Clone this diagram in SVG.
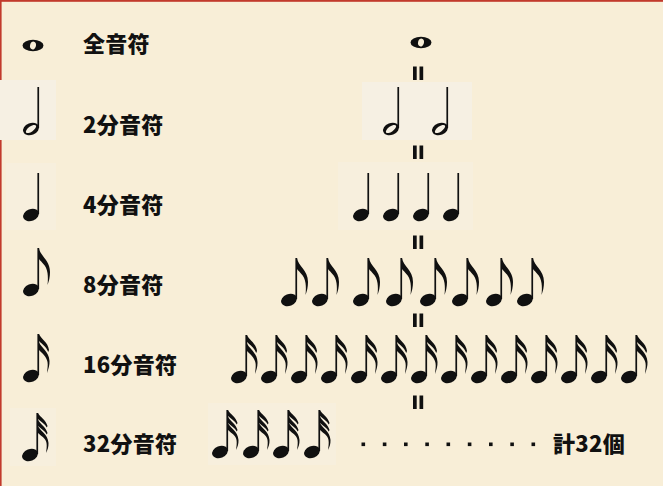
<svg xmlns="http://www.w3.org/2000/svg" xmlns:xlink="http://www.w3.org/1999/xlink" width="663" height="486" viewBox="0 0 663 486">
<style>
.bg{fill:#F8EED7}
.patch{fill:#F6F0E3}
.patch2{fill:#F7EFDD}
.border{fill:#C23A2C}
.ink{fill:#101010}
.txt{font-family:"Noto Sans CJK JP","Noto Sans CJK SC",sans-serif;font-weight:900;font-size:22px;fill:#111;letter-spacing:0.3px}
</style>
<defs>
<rect id="stem" x="6.4" y="-42" width="1.7" height="41"/>
<ellipse id="head" rx="8.2" ry="5.8" transform="rotate(-22)"/>
<path id="hhead" fill-rule="evenodd" d="M -7.6,3.07 A 8.2 5.8 -22 1 0 7.6,-3.07 A 8.2 5.8 -22 1 0 -7.6,3.07 Z M -4.92,3.44 A 6 2.6 -35 1 0 4.92,-3.44 A 6 2.6 -35 1 0 -4.92,3.44 Z"/>
<path id="whole" fill-rule="evenodd" d="M -10.5,0 A 10.5 5.8 0 1 0 10.5,0 A 10.5 5.8 0 1 0 -10.5,0 Z M -1.0,3.73 A 3.9 2.6 -75 1 0 1.0,-3.73 A 3.9 2.6 -75 1 0 -1.0,3.73 Z"/>
<path id="flag8" d="M 8,-42 C 9,-34 19,-30 19,-18 C 19,-13 18,-9 16.5,-5 C 17,-10 17,-13 16.5,-17 C 15.5,-25 10,-28 8,-31 Z"/>
<path id="f16a" d="M 8,-42 C 10,-37 17,-34 18,-26 L 17.2,-24 C 15.5,-29 11,-32 8,-35 Z"/>
<path id="f16b" d="M 8,-34 C 10,-28 18,-25 18.5,-15 C 18.7,-11 17.5,-7 16,-3 C 16.5,-8 17,-11 16.5,-14 C 15.8,-19 11,-23 8,-26 Z"/>
<path id="f32a" d="M 8,-42 C 10,-38 16,-35 17.5,-29 L 16.8,-27.5 C 15,-31 11,-33.5 8,-36 Z"/>
<path id="f32b" d="M 8,-35.5 C 10,-31 16,-28 17.5,-22 L 16.8,-20.5 C 15,-24 11,-26.5 8,-29 Z"/>
<path id="f32c" d="M 8,-29 C 10,-24 18,-21 18.5,-12 C 18.7,-8 17.5,-5 16,-2 C 16.5,-6 17,-9 16.5,-12 C 15.8,-17 11,-19 8,-22 Z"/>
<g id="n2"><use href="#hhead"/><use href="#stem"/></g>
<g id="n4"><use href="#head"/><use href="#stem"/></g>
<g id="n8"><use href="#n4"/><use href="#flag8"/></g>
<g id="n16"><use href="#n4"/><use href="#f16a"/><use href="#f16b"/></g>
<g id="n32"><use href="#n4"/><use href="#f32a"/><use href="#f32b"/><use href="#f32c"/></g>
<g id="eq"><rect x="413" y="0" width="3.7" height="13.5"/><rect x="419.5" y="0" width="3.7" height="13.5"/></g>
</defs>

<rect class="bg" x="0" y="0" width="663" height="486"/>
<rect class="patch2" x="6" y="163" width="50" height="67"/>
<rect class="patch2" x="338" y="162" width="135" height="68"/>
<rect class="patch2" x="10" y="408" width="46" height="58"/>
<rect class="patch" x="0" y="80" width="56" height="60"/>
<rect class="patch" x="362" y="82" width="110" height="58"/>
<rect class="patch2" x="208" y="403" width="128" height="62"/>
<rect class="border" x="0" y="0" width="663" height="1.8"/>
<rect class="border" x="0" y="0" width="1.6" height="80"/>
<rect class="border" x="0" y="140" width="1.6" height="346"/>

<g id="row-whole" class="ink">
<use href="#whole" x="33" y="45.5"/>
<text class="txt" x="83" y="51.5">全音符</text>
<use href="#whole" x="421" y="42.5"/>
</g>
<g id="row-half" class="ink">
<use href="#n2" x="31" y="129"/>
<text class="txt" x="83" y="132.5">2分音符</text>
<use href="#n2" x="391" y="129"/>
<use href="#n2" x="440" y="129"/>
</g>
<g id="row-quarter" class="ink">
<use href="#n4" x="31" y="215"/>
<text class="txt" x="83" y="212.5">4分音符</text>
<use href="#n4" x="361" y="215"/>
<use href="#n4" x="391" y="215"/>
<use href="#n4" x="421" y="215"/>
<use href="#n4" x="451" y="215"/>
</g>
<g id="row-eighth" class="ink">
<use href="#n8" x="31" y="290"/>
<text class="txt" x="83" y="292.5">8分音符</text>
<use href="#n8" x="289" y="300"/>
<use href="#n8" x="320" y="300"/>
<use href="#n8" x="361" y="300"/>
<use href="#n8" x="394" y="300"/>
<use href="#n8" x="428" y="300"/>
<use href="#n8" x="460" y="300"/>
<use href="#n8" x="494" y="300"/>
<use href="#n8" x="525" y="300"/>
</g>
<g id="row-sixteenth" class="ink">
<use href="#n16" x="31" y="376"/>
<text class="txt" x="83" y="372.5">16分音符</text>
<use href="#n16" x="239" y="377"/>
<use href="#n16" x="269" y="377"/>
<use href="#n16" x="299" y="377"/>
<use href="#n16" x="329" y="377"/>
<use href="#n16" x="359" y="377"/>
<use href="#n16" x="389" y="377"/>
<use href="#n16" x="419" y="377"/>
<use href="#n16" x="449" y="377"/>
<use href="#n16" x="479" y="377"/>
<use href="#n16" x="509" y="377"/>
<use href="#n16" x="539" y="377"/>
<use href="#n16" x="569" y="377"/>
<use href="#n16" x="599" y="377"/>
<use href="#n16" x="629" y="377"/>
</g>
<g id="row-thirtysecond" class="ink">
<use href="#n32" x="30" y="455"/>
<text class="txt" x="83" y="451.5">32分音符</text>
<use href="#n32" x="220" y="452"/>
<use href="#n32" x="251" y="452"/>
<use href="#n32" x="281" y="452"/>
<use href="#n32" x="312" y="452"/>
<g id="dots">
<rect x="361.5" y="442.5" width="3.6" height="3.6"/>
<rect x="382.8" y="442.5" width="3.6" height="3.6"/>
<rect x="404" y="442.5" width="3.6" height="3.6"/>
<rect x="425.3" y="442.5" width="3.6" height="3.6"/>
<rect x="446.5" y="442.5" width="3.6" height="3.6"/>
<rect x="467.8" y="442.5" width="3.6" height="3.6"/>
<rect x="489" y="442.5" width="3.6" height="3.6"/>
<rect x="510.3" y="442.5" width="3.6" height="3.6"/>
<rect x="531.5" y="442.5" width="3.6" height="3.6"/>
</g>
<text class="txt" x="553" y="451.5">計32個</text>
</g>
<g id="connectors" class="ink">
<use href="#eq" y="66.5"/>
<use href="#eq" y="145.5"/>
<use href="#eq" y="235.5"/>
<use href="#eq" y="313.5"/>
<use href="#eq" y="395.5"/>
</g>
</svg>
